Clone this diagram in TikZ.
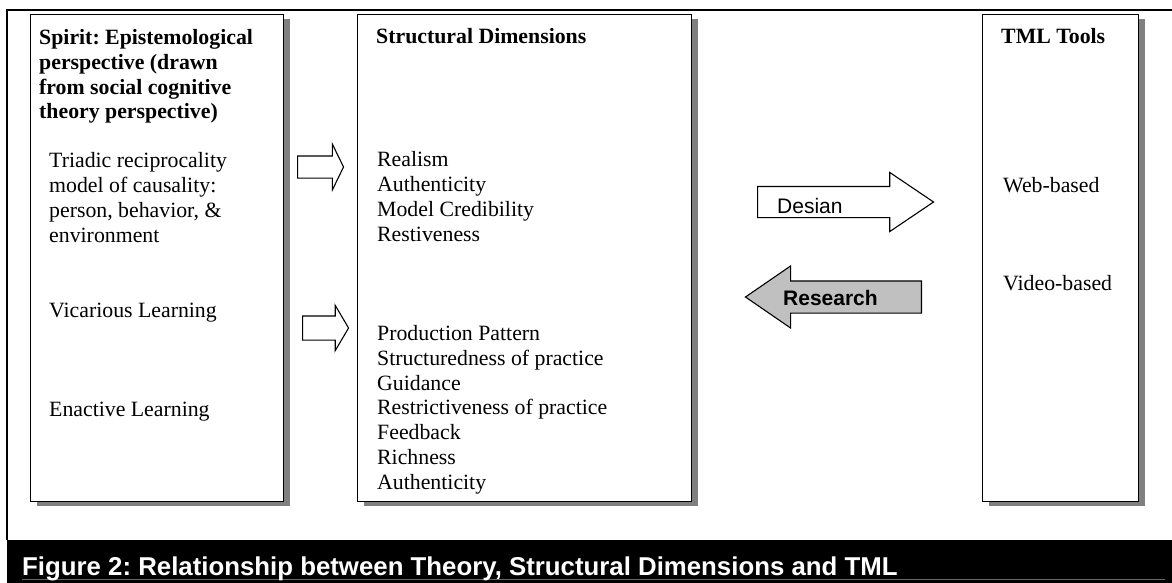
\documentclass[tikz,border=0pt]{standalone}
\usepackage{fontspec}
\setmainfont{Liberation Serif}
\newfontfamily\capfont{Liberation Sans}
\usetikzlibrary{shapes.arrows,shadows,positioning}
\frenchspacing
\definecolor{shadowgray}{HTML}{808080}
\definecolor{arrowgray}{HTML}{C0C0C0}
\tikzset{
    panel/.style={
    rectangle,draw=black,line width=1.3pt,fill=white,anchor=north west,
    drop shadow={shadow xshift=6pt,shadow yshift=-4pt,fill=shadowgray,opacity=1}
    },
    heading/.style={
    anchor=base west,inner sep=0pt,align=left,
    font=\fontsize{21.8}{24.7}\selectfont\bfseries
    },
    entry/.style={
    anchor=base west,inner sep=0pt,align=left,
    font=\fontsize{21.8}{24.7}\selectfont
    },
    blockarrow/.style={
    single arrow,draw=black,line width=1.1pt,inner sep=0pt,anchor=tail
    },
    arrowtext/.style={
    anchor=base west,inner sep=0pt,font=\capfont\fontsize{21}{24}\selectfont
    },
}

\begin{document}
\begin{tikzpicture}[x=1pt,y=-1pt]
  \useasboundingbox (0,0) rectangle (1172,583);
  % frame and caption
  \draw[line width=2pt] (7,540) -- (7,10) -- (1172,10);
  \fill[black] (7,540) rectangle (1172,583);
  \draw[black!60,line width=0.8pt] (22,579) -- (1165,579);
  \node[anchor=base west,inner sep=0pt,text=white,
        font=\capfont\bfseries\fontsize{25.8}{30}\selectfont] (caption) at (22,575)
        {Figure 2: Relationship between Theory, Structural Dimensions and TML};

  % panels
  \node[panel,minimum width=253pt,minimum height=487pt] (spirit) at (30,14) {};
  \node[panel,minimum width=334pt,minimum height=487pt] (dims) at (357,14) {};
  \node[panel,minimum width=156pt,minimum height=487pt] (tools) at (982,14) {};

  % multi-line texts sit on the baseline of their last line
  \node[heading] (spirithead) at (39,119) {Spirit: Epistemological\\perspective (drawn\\from social cognitive\\theory perspective)};
  \node[entry] (triadic) at (49,242) {Triadic reciprocality\\model of causality:\\person, behavior, \&\\environment};
  \node[entry] (vicarious) at (49,317) {Vicarious Learning};
  \node[entry] (enactive) at (49,416) {Enactive Learning};

  \node[heading] (dimshead) at (376,44) {Structural Dimensions};
  \node[entry] (modelling) at (377,241) {Realism\\Authenticity\\Model Credibility\\Restiveness};
  \node[entry] (practice) at (377,489) {Production Pattern\\Structuredness of practice\\Guidance\\Restrictiveness of practice\\Feedback\\Richness\\Authenticity};

  \node[heading] (toolshead) at (1001,44) {TML Tools};
  \node[entry] (web) at (1003,192) {Web-based};
  \node[entry] (video) at (1003,290) {Video-based};

  % block arrows
  \node[blockarrow,minimum height=46pt,text height=10.5pt,text depth=10.5pt,
        single arrow head extend=12pt,single arrow tip angle=128] (toreal) at (297,167) {};
  \node[blockarrow,minimum height=46pt,text height=11.5pt,text depth=11.5pt,
        single arrow head extend=10.5pt,single arrow tip angle=119] (toprod) at (302,328) {};
  \node[blockarrow,minimum height=176pt,text height=15pt,text depth=15pt,
        single arrow head extend=14pt,single arrow tip angle=68] (design) at (757,202) {};
  \node[blockarrow,fill=arrowgray,shape border rotate=180,minimum height=176pt,
        text height=15.5pt,text depth=15.5pt,
        single arrow head extend=15pt,single arrow tip angle=69] (research) at (922,297) {};
  \node[arrowtext] (designlbl) at (777,213) {Desian};
  \node[arrowtext,font=\capfont\bfseries\fontsize{21}{24}\selectfont] (researchlbl) at (783,305) {Research};

\end{tikzpicture}
\end{document}
